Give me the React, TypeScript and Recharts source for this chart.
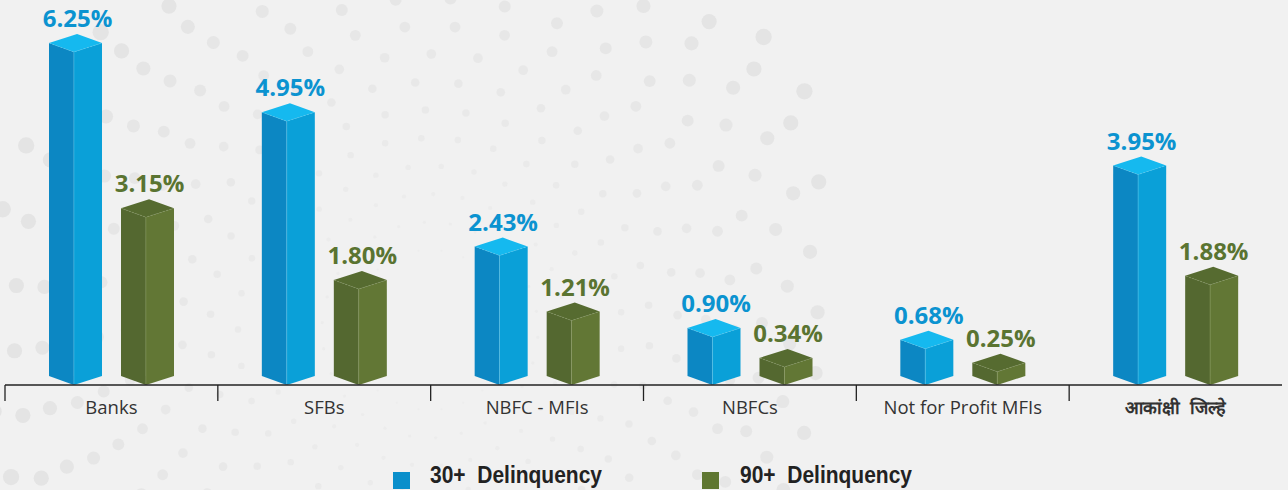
import { BarChart, Bar, XAxis, YAxis, Legend, LabelList } from "recharts";

const categories = ["Banks", "SFBs", "NBFC - MFIs", "NBFCs", "Not for Profit MFIs", "आकांक्षी  जिल्हे"];
const delinquency30 = [6.25, 4.95, 2.43, 0.9, 0.68, 3.95];
const delinquency90 = [3.15, 1.8, 1.21, 0.34, 0.25, 1.88];
const seriesNames = ["30+  Delinquency", "90+  Delinquency"];

const data = categories.map((name, i) => ({
  name,
  d30: delinquency30[i],
  d90: delinquency90[i],
}));

const blue = { left: "#0c87c3", right: "#0aa0d8", top: "#15b9ef", edge: "#6fd0f2", label: "#0b93d0", key: "#0a8fcb" };
const green = { left: "#546830", right: "#627735", top: "#566b30", edge: "#93a56a", label: "#5a7431", key: "#5f7731" };

// faint radial dot pattern behind the chart (decoration only)
function DotBackground() {
  const dots = [];
  for (let k = 0; k < 14; k++) {
    const r = 80 + k * 28;
    const size = 1 + k * 0.55;
    const n = Math.floor((2 * Math.PI * r) / (22 + k * 3.5));
    for (let j = 0; j < n; j++) {
      const a = (j / n) * 2 * Math.PI + k * 0.31;
      const cx = 430 + r * Math.cos(a);
      const cy = 330 + r * Math.sin(a);
      if (cx < -10 || cx > 830 || cy < -10 || cy > 500) continue;
      dots.push(
        <circle key={`${k}-${j}`} cx={cx} cy={cy} r={size} fill="#e4e4e4" opacity={Math.min(1, 0.3 + k * 0.06)} />
      );
    }
  }
  return (
    <svg width={1288} height={490} style={{ position: "absolute", left: 0, top: 0 }}>
      {dots}
    </svg>
  );
}

function Prism(props: any) {
  const { x, y, width, height, colors } = props;
  if (!height) return null;
  const base = y + height;
  const d = 9;
  const xf = x + width * 0.47;
  const xb = x + width * 0.53;
  const xr = x + width;
  return (
    <g>
      <polygon points={`${x},${y - d} ${xf},${y} ${xf},${base} ${x},${base - d}`} fill={colors.left} />
      <polygon points={`${xf},${y} ${xr},${y - d} ${xr},${base - d} ${xf},${base}`} fill={colors.right} />
      <polygon points={`${x},${y - d} ${xb},${y - 2 * d} ${xr},${y - d} ${xf},${y}`} fill={colors.top} />
      <line x1={xf} y1={y} x2={xf} y2={base} stroke={colors.edge} strokeWidth={0.8} opacity={0.5} />
      <polyline
        points={`${x},${y - d} ${xf},${y} ${xr},${y - d}`}
        fill="none"
        stroke={colors.edge}
        strokeWidth={0.7}
        strokeDasharray="2 2"
        opacity={0.5}
      />
    </g>
  );
}

function makeLabel(color: string) {
  return (props: any) => {
    const { x, y, width, value } = props;
    return (
      <text
        x={x + width / 2 + 2}
        y={y - 25}
        textAnchor="middle"
        fontFamily="Open Sans"
        fontWeight={700}
        fontSize={24}
        fill={color}
      >
        {Number(value).toFixed(2)}%
      </text>
    );
  };
}

function CategoryTick(props: any) {
  const { x, y, payload, index } = props;
  const half = payload.offset ?? 106;
  const last = index === categories.length - 1;
  return (
    <g>
      <line x1={x - half} y1={y} x2={x - half} y2={y + 16} stroke="#222" strokeWidth={1.3} />
      <text
        x={x}
        y={y + 29}
        textAnchor="middle"
        fontFamily="Open Sans"
        fontSize={last ? 18 : 18.5}
        fontWeight={last ? 700 : 400}
        fill="#333"
        style={{ whiteSpace: "pre" }}
      >
        {payload.value}
      </text>
    </g>
  );
}

const legendSpots = [
  { box: 393, text: 430 },
  { box: 702, text: 740 },
];

function LegendRow(props: any) {
  const items = props.payload || [];
  return (
    <svg width={1288} height={28} style={{ display: "block" }}>
      {items.map((item: any, i: number) => (
        <g key={item.value}>
          <rect x={legendSpots[i].box} y={10} width={17} height={17} fill={item.color} />
          <text
            x={legendSpots[i].text}
            y={21}
            fontFamily="Liberation Sans, Arial"
            fontWeight={700}
            fontSize={23}
            fill="#222"
            textLength={172}
            lengthAdjust="spacingAndGlyphs"
            style={{ whiteSpace: "pre" }}
          >
            {item.value}
          </text>
        </g>
      ))}
    </svg>
  );
}

export default function App() {
  return (
    <div style={{ position: "absolute", left: 0, top: 0, width: 1288, height: 490, background: "#f1f1f1", overflow: "hidden" }}>
      <DotBackground />
      <div style={{ position: "absolute", left: 0, top: 0 }}>
        <BarChart
          width={1288}
          height={490}
          data={data}
          margin={{ top: 12, right: 6, left: 5, bottom: 0 }}
          barSize={53}
          barGap={19}
        >
          <XAxis
            dataKey="name"
            height={77}
            axisLine={{ stroke: "#222", strokeWidth: 1.3 }}
            tickLine={false}
            tickSize={0}
            tickMargin={0}
            interval={0}
            tick={<CategoryTick />}
          />
          <YAxis hide domain={[0, 7]} />
          <Legend
            verticalAlign="bottom"
            height={28}
            content={<LegendRow />}
            wrapperStyle={{ left: 0, bottom: 0, width: 1288, height: 28 }}
          />
          <Bar
            dataKey="d30"
            name={seriesNames[0]}
            fill={blue.key}
            isAnimationActive={false}
            shape={(p: any) => <Prism {...p} colors={blue} />}
          >
            <LabelList dataKey="d30" content={makeLabel(blue.label)} />
          </Bar>
          <Bar
            dataKey="d90"
            name={seriesNames[1]}
            fill={green.key}
            isAnimationActive={false}
            shape={(p: any) => <Prism {...p} colors={green} />}
          >
            <LabelList dataKey="d90" content={makeLabel(green.label)} />
          </Bar>
        </BarChart>
      </div>
    </div>
  );
}
